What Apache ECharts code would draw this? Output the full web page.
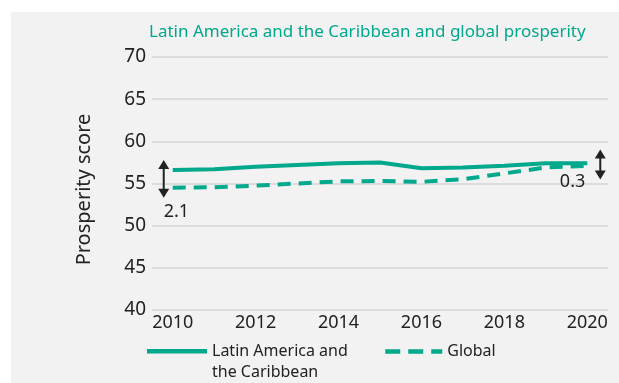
<!DOCTYPE html>
<html>
<head>
<meta charset="utf-8">
<script src="https://cdn.jsdelivr.net/npm/echarts@6/dist/echarts.min.js"></script>
<style>
  html, body { margin: 0; padding: 0; background: #ffffff; }
  #wrap { position: relative; width: 619px; height: 383px; background: #ffffff; }
  #chart { position: absolute; left: 11px; top: 12px; width: 608px; height: 371px; background: #f2f2f2; }
</style>
</head>
<body>
<div id="wrap"><div id="chart"></div></div>
<script>
// Years on the horizontal axis
const years = ['2010', '2011', '2012', '2013', '2014', '2015', '2016', '2017', '2018', '2019', '2020'];
// Prosperity scores
const latamScores = [56.6, 56.7, 57.0, 57.2, 57.4, 57.5, 56.8, 56.9, 57.1, 57.4, 57.4];
const globalScores = [54.5, 54.55, 54.75, 55.0, 55.25, 55.3, 55.2, 55.5, 56.2, 56.9, 57.1];
// Series names
const latamName = 'Latin America and\nthe Caribbean';
const globalName = 'Global';
// Years at which the gap between the two series is marked
const gapIndices = [0, 10];

const teal = '#00a88c';
const ink = '#222222';
const font = '"Noto Sans", "Open Sans", sans-serif';

const chart = echarts.init(document.getElementById('chart'), null, { renderer: 'canvas' });

// Double-headed arrow with the gap value between the two series
function renderGap(params, api) {
  const idx = gapIndices[params.dataIndex];
  const a = api.coord([idx, latamScores[idx]]);
  const b = api.coord([idx, globalScores[idx]]);
  const gap = (latamScores[idx] - globalScores[idx]).toFixed(1);
  const isFirst = params.dataIndex === 0;
  const x = a[0] + (isFirst ? -9 : 13);
  const mid = (a[1] + b[1]) / 2;
  const half = Math.max(Math.abs(b[1] - a[1]) / 2 + 10, 15);
  const top = mid - half, bottom = mid + half;
  const hw = 5.5, hh = 9;
  const children = [
    { type: 'line', shape: { x1: x, y1: top + hh - 1, x2: x, y2: bottom - hh + 1 },
      style: { stroke: ink, lineWidth: 2 } },
    { type: 'polygon', shape: { points: [[x, top], [x - hw, top + hh], [x + hw, top + hh]] },
      style: { fill: ink } },
    { type: 'polygon', shape: { points: [[x, bottom], [x - hw, bottom - hh], [x + hw, bottom - hh]] },
      style: { fill: ink } }
  ];
  if (isFirst) {
    children.push({ type: 'text', x: x, y: bottom + 5,
      style: { text: gap, fill: ink, font: '18px ' + font, align: 'left', verticalAlign: 'top' } });
  } else {
    children.push({ type: 'text', x: x - 15, y: bottom + 2,
      style: { text: gap, fill: ink, font: '18px ' + font, align: 'right', verticalAlign: 'middle' } });
  }
  return { type: 'group', children: children };
}

chart.setOption({
  animation: false,
  title: {
    text: 'Latin America and the Caribbean and global prosperity',
    left: 133, top: 7,
    textStyle: { color: teal, fontSize: 17, fontWeight: 'normal', fontFamily: font }
  },
  legend: [
    {
      // bar icon sits at the top of a taller box so it lines up with the first text line
      data: [latamName], left: 136, top: 329, padding: 0,
      itemWidth: 60, itemHeight: 26,
      icon: 'path://M0,0H60V4.5H0Z M0,25.99H0.01V26H0Z',
      itemStyle: { color: teal },
      textStyle: { color: ink, fontSize: 16, fontFamily: font, lineHeight: 21 }
    },
    {
      data: [globalName], left: 372, top: 329, padding: 0,
      itemWidth: 57, itemHeight: 4,
      lineStyle: { width: 4.5, type: [15, 8] },
      textStyle: { color: ink, fontSize: 16, fontFamily: font, lineHeight: 21 }
    }
  ],
  grid: { left: 141, right: 11, top: 45, bottom: 73 },
  xAxis: {
    type: 'category',
    data: years,
    boundaryGap: true,
    axisLine: { show: false },
    axisTick: { show: false },
    axisLabel: { interval: 1, color: ink, fontSize: 18, fontFamily: font, margin: 4 }
  },
  yAxis: {
    type: 'value',
    min: 40, max: 70, interval: 5,
    name: 'Prosperity score',
    nameLocation: 'middle',
    nameRotate: 90,
    nameGap: 58,
    nameTextStyle: { color: ink, fontSize: 20, fontFamily: font, padding: [0, 12, 0, 0] },
    axisLine: { show: false },
    axisTick: { show: false },
    axisLabel: { color: ink, fontSize: 19, fontFamily: font, margin: 6 },
    splitLine: { lineStyle: { color: '#dcdcdc', width: 2 } }
  },
  series: [
    {
      name: latamName, type: 'line', data: latamScores, symbol: 'none',
      lineStyle: { color: teal, width: 4 }, itemStyle: { color: teal }, z: 3
    },
    {
      name: globalName, type: 'line', data: globalScores, symbol: 'none',
      lineStyle: { color: teal, width: 4, type: [13, 8] }, itemStyle: { color: teal }, z: 2
    },
    {
      type: 'custom', data: gapIndices.map(function (i) { return [i]; }),
      renderItem: renderGap, silent: true, z: 4
    }
  ]
});
</script>
</body>
</html>
